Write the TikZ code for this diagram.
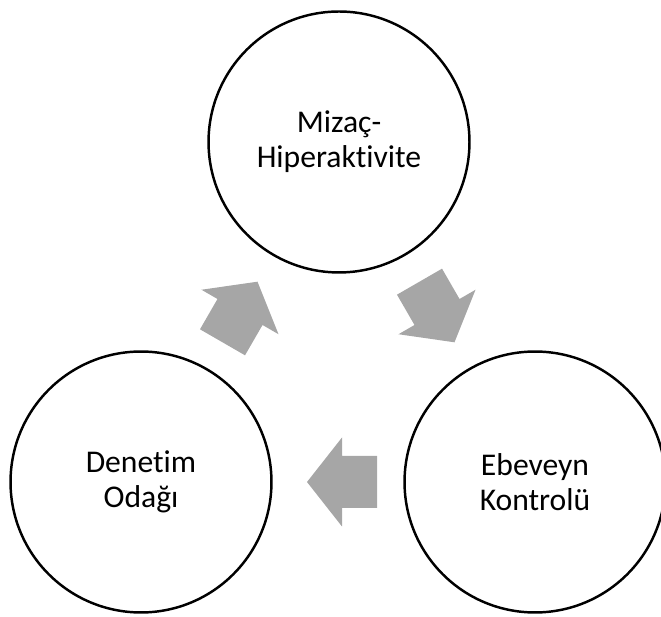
\documentclass[tikz,border=0pt]{standalone}
\usepackage{fontspec}
\setmainfont[Ligatures=NoCommon]{Carlito}
\usetikzlibrary{calc}
\definecolor{arrowgray}{HTML}{A6A6A6}
\tikzstyle{cyc} = [circle, draw=black, line width=1.4pt, minimum size=5.22cm, inner sep=0pt, align=center, font=\fontsize{18pt}{20pt}\selectfont]

\begin{document}
\begin{tikzpicture}[x=0.02cm, y=0.02cm]
		\tikzset{cyclearrow/.pic={
			\fill[arrowgray] (-35,-26) -- (0,-26) -- (0,-44.5) -- (35,0) -- (0,44.5) -- (0,26) -- (-35,26) -- cycle;
		}}
		\useasboundingbox (0,0) rectangle (661,617);
		\node[cyc] (mizac) at (339, 475) {Mizaç-\\Hiperaktivite};
		\node[cyc] (denetim) at (141, 135) {Denetim\\Odağı};
		\node[cyc] (ebeveyn) at (535, 135) {Ebeveyn\\Kontrolü};
		
		% arrows between the circles
		\pic[rotate=60] at ($(denetim)!0.5!(mizac)$) {cyclearrow};
		\pic[rotate=-60] at ($(mizac)!0.5!(ebeveyn)$) {cyclearrow};
		\pic[rotate=180] at ($(ebeveyn)!0.5!(denetim)+(4,0)$) {cyclearrow};
	\end{tikzpicture}
\end{document}
